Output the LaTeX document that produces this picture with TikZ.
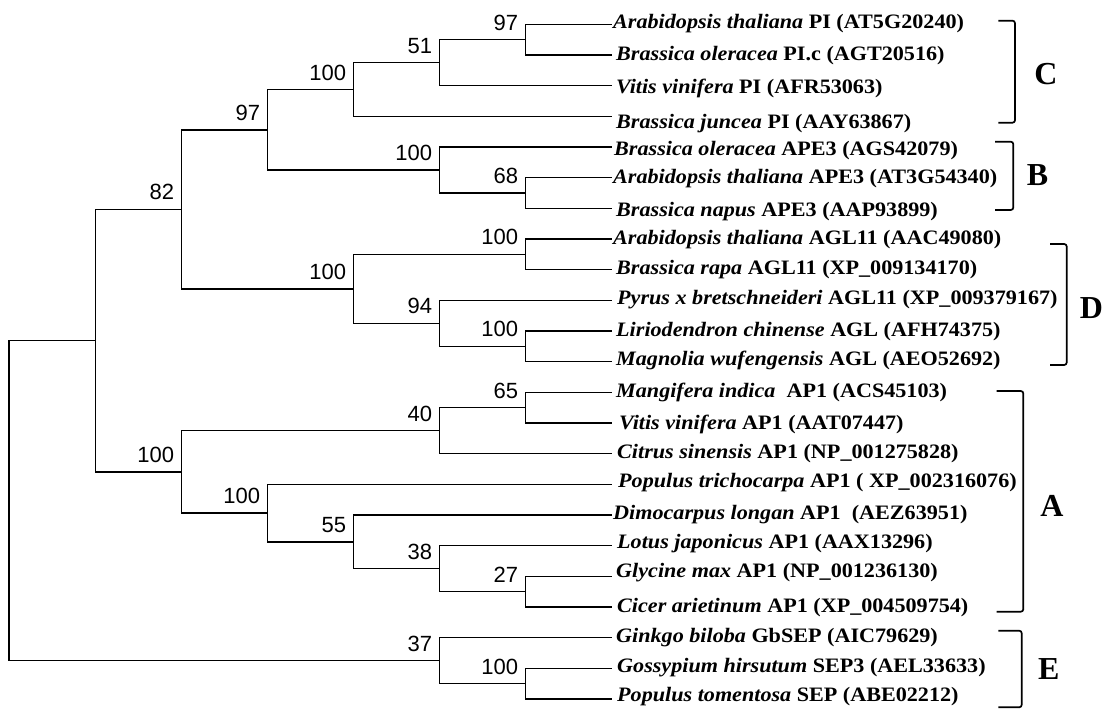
\documentclass[tikz,border=0pt]{standalone}
\usepackage{fontspec}
\setmainfont{Liberation Serif}
\setsansfont{Liberation Sans}
\newfontfamily\taxonfont{Liberation Serif}[FakeStretch=1.08]
\usetikzlibrary{positioning}

\begin{document}
\begin{tikzpicture}[
    x=1pt,
    y=-1pt,
    branch/.style={draw=black, line width=1.4pt},
    boot/.style={
        font=\fontsize{22}{24}\sffamily,
        anchor=base east,
        inner sep=0pt,
        xshift=-7.5pt,
        yshift=9.5pt
    },
    leaf/.style={
        font=\fontsize{20.5}{23}\taxonfont\bfseries,
        anchor=base west,
        inner sep=0pt
    },
    bracket/.style={draw=black, line width=1.7pt, rounded corners=2.5pt},
    clade/.style={font=\fontsize{32}{36}\selectfont\bfseries, inner sep=0pt}
]
\useasboundingbox (0,0) rectangle (1105,709);

% leaf ends
\coordinate (l1) at (611.7,24.3);
\coordinate (l2) at (611.7,55.0);
\coordinate (l3) at (611.7,85.7);
\coordinate (l4) at (611.7,116.3);
\coordinate (l5) at (611.7,147.0);
\coordinate (l6) at (611.7,177.7);
\coordinate (l7) at (611.7,208.3);
\coordinate (l8) at (611.7,239.0);
\coordinate (l9) at (611.7,269.7);
\coordinate (l10) at (611.7,300.3);
\coordinate (l11) at (611.7,331.0);
\coordinate (l12) at (611.7,361.7);
\coordinate (l13) at (611.7,392.3);
\coordinate (l14) at (611.7,423.0);
\coordinate (l15) at (611.7,453.7);
\coordinate (l16) at (611.7,484.3);
\coordinate (l17) at (611.7,515.0);
\coordinate (l18) at (611.7,545.7);
\coordinate (l19) at (611.7,576.3);
\coordinate (l20) at (611.7,607.0);
\coordinate (l21) at (611.7,637.7);
\coordinate (l22) at (611.7,668.3);
\coordinate (l23) at (611.7,699.0);

% internal nodes
\coordinate (n1) at (525.7,39.7);
\coordinate (n2) at (439.7,62.7);
\coordinate (n3) at (353.7,89.5);
\coordinate (n4) at (525.7,193.0);
\coordinate (n5) at (439.7,170.0);
\coordinate (n6) at (267.7,129.8);
\coordinate (n7) at (525.7,254.3);
\coordinate (n8) at (525.7,346.3);
\coordinate (n9) at (439.7,323.3);
\coordinate (n10) at (353.7,288.8);
\coordinate (n11) at (181.7,209.3);
\coordinate (n12) at (525.7,407.7);
\coordinate (n13) at (439.7,430.7);
\coordinate (n14) at (525.7,591.7);
\coordinate (n15) at (439.7,568.7);
\coordinate (n16) at (353.7,541.8);
\coordinate (n17) at (267.7,513.1);
\coordinate (n18) at (181.7,471.9);
\coordinate (n19) at (95.7,340.6);
\coordinate (n20) at (525.7,683.7);
\coordinate (n21) at (439.7,660.7);
\coordinate (root) at (9,500.6);

% branches
\draw[branch] (n1) |- (l1);
\draw[branch] (n1) |- (l2);
\draw[branch] (n2) |- (n1);
\draw[branch] (n2) |- (l3);
\draw[branch] (n3) |- (n2);
\draw[branch] (n3) |- (l4);
\draw[branch] (n4) |- (l6);
\draw[branch] (n4) |- (l7);
\draw[branch] (n5) |- (l5);
\draw[branch] (n5) |- (n4);
\draw[branch] (n6) |- (n3);
\draw[branch] (n6) |- (n5);
\draw[branch] (n7) |- (l8);
\draw[branch] (n7) |- (l9);
\draw[branch] (n8) |- (l11);
\draw[branch] (n8) |- (l12);
\draw[branch] (n9) |- (l10);
\draw[branch] (n9) |- (n8);
\draw[branch] (n10) |- (n7);
\draw[branch] (n10) |- (n9);
\draw[branch] (n11) |- (n6);
\draw[branch] (n11) |- (n10);
\draw[branch] (n12) |- (l13);
\draw[branch] (n12) |- (l14);
\draw[branch] (n13) |- (n12);
\draw[branch] (n13) |- (l15);
\draw[branch] (n14) |- (l19);
\draw[branch] (n14) |- (l20);
\draw[branch] (n15) |- (l18);
\draw[branch] (n15) |- (n14);
\draw[branch] (n16) |- (l17);
\draw[branch] (n16) |- (n15);
\draw[branch] (n17) |- (l16);
\draw[branch] (n17) |- (n16);
\draw[branch] (n18) |- (n13);
\draw[branch] (n18) |- (n17);
\draw[branch] (n19) |- (n11);
\draw[branch] (n19) |- (n18);
\draw[branch] (n20) |- (l22);
\draw[branch] (n20) |- (l23);
\draw[branch] (n21) |- (l21);
\draw[branch] (n21) |- (n20);
\draw[branch] (root) |- (n19);
\draw[branch] (root) |- (n21);

% bootstrap values
\node[boot] (b1) at (n1) {97};
\node[boot] (b2) at (n2) {51};
\node[boot] (b3) at (n3) {100};
\node[boot] (b4) at (n4) {68};
\node[boot] (b5) at (n5) {100};
\node[boot] (b6) at (n6) {97};
\node[boot] (b7) at (n7) {100};
\node[boot] (b8) at (n8) {100};
\node[boot] (b9) at (n9) {94};
\node[boot] (b10) at (n10) {100};
\node[boot] (b11) at (n11) {82};
\node[boot] (b12) at (n12) {65};
\node[boot] (b13) at (n13) {40};
\node[boot] (b14) at (n14) {27};
\node[boot] (b15) at (n15) {38};
\node[boot] (b16) at (n16) {55};
\node[boot] (b17) at (n17) {100};
\node[boot] (b18) at (n18) {100};
\node[boot] (b20) at (n20) {100};
\node[boot] (b21) at (n21) {37};

% taxa
\node[leaf] (t1) at (613,28.6) {\textit{Arabidopsis thaliana} PI (AT5G20240)};
\node[leaf] (t2) at (616,60.0) {\textit{Brassica oleracea} PI.c (AGT20516)};
\node[leaf] (t3) at (616,93.7) {\textit{Vitis vinifera} PI (AFR53063)};
\node[leaf] (t4) at (616,128.9) {\textit{Brassica juncea} PI (AAY63867)};
\node[leaf] (t5) at (614,155.3) {\textit{Brassica oleracea} APE3 (AGS42079)};
\node[leaf] (t6) at (613,183.3) {\textit{Arabidopsis thaliana} APE3 (AT3G54340)};
\node[leaf] (t7) at (616,216.7) {\textit{Brassica napus} APE3 (AAP93899)};
\node[leaf] (t8) at (613,244.0) {\textit{Arabidopsis thaliana} AGL11 (AAC49080)};
\node[leaf] (t9) at (616,274.7) {\textit{Brassica rapa} AGL11 (XP\_009134170)};
\node[leaf] (t10) at (617,304.3) {\textit{Pyrus x bretschneideri} AGL11 (XP\_009379167)};
\node[leaf] (t11) at (616,336.0) {\textit{Liriodendron chinense} AGL (AFH74375)};
\node[leaf] (t12) at (616,365.2) {\textit{Magnolia wufengensis} AGL (AEO52692)};
\node[leaf] (t13) at (616,397.9) {\textit{Mangifera indica} \ AP1 (ACS45103)};
\node[leaf] (t14) at (619,429.6) {\textit{Vitis vinifera} AP1 (AAT07447)};
\node[leaf] (t15) at (617,458.0) {\textit{Citrus sinensis} AP1 (NP\_001275828)};
\node[leaf] (t16) at (618,487.9) {\textit{Populus trichocarpa} AP1 ( XP\_002316076)};
\node[leaf] (t17) at (613,519.0) {\textit{Dimocarpus longan} AP1 \ (AEZ63951)};
\node[leaf] (t18) at (617,548.2) {\textit{Lotus japonicus} AP1 (AAX13296)};
\node[leaf] (t19) at (616,577.8) {\textit{Glycine max} AP1 (NP\_001236130)};
\node[leaf] (t20) at (617,612.4) {\textit{Cicer arietinum} AP1 (XP\_004509754)};
\node[leaf] (t21) at (616,642.7) {\textit{Ginkgo biloba} GbSEP (AIC79629)};
\node[leaf] (t22) at (617,672.9) {\textit{Gossypium hirsutum} SEP3 (AEL33633)};
\node[leaf] (t23) at (617,701.7) {\textit{Populus tomentosa} SEP (ABE02212)};

% clade brackets
\draw[bracket] (998.3,20.7) -- (1015,20.7) -- (1015,122.7) -- (998.3,122.7);
\draw[bracket] (995,141.7) -- (1013.3,141.7) -- (1013.3,210) -- (995,210);
\draw[bracket] (1050,244) -- (1066.7,244) -- (1066.7,365) -- (1050,365);
\draw[bracket] (996.7,391) -- (1023.3,391) -- (1023.3,611.7) -- (996.7,611.7);
\draw[bracket] (998.3,630.7) -- (1021.7,630.7) -- (1021.7,707.3) -- (998.3,707.3);

\node[clade] (cC) at (1046,74) {C};
\node[clade] (cB) at (1037.5,175.5) {B};
\node[clade] (cD) at (1091.5,308.3) {D};
\node[clade] (cA) at (1052,506) {A};
\node[clade] (cE) at (1048.7,669) {E};

\end{tikzpicture}
\end{document}
